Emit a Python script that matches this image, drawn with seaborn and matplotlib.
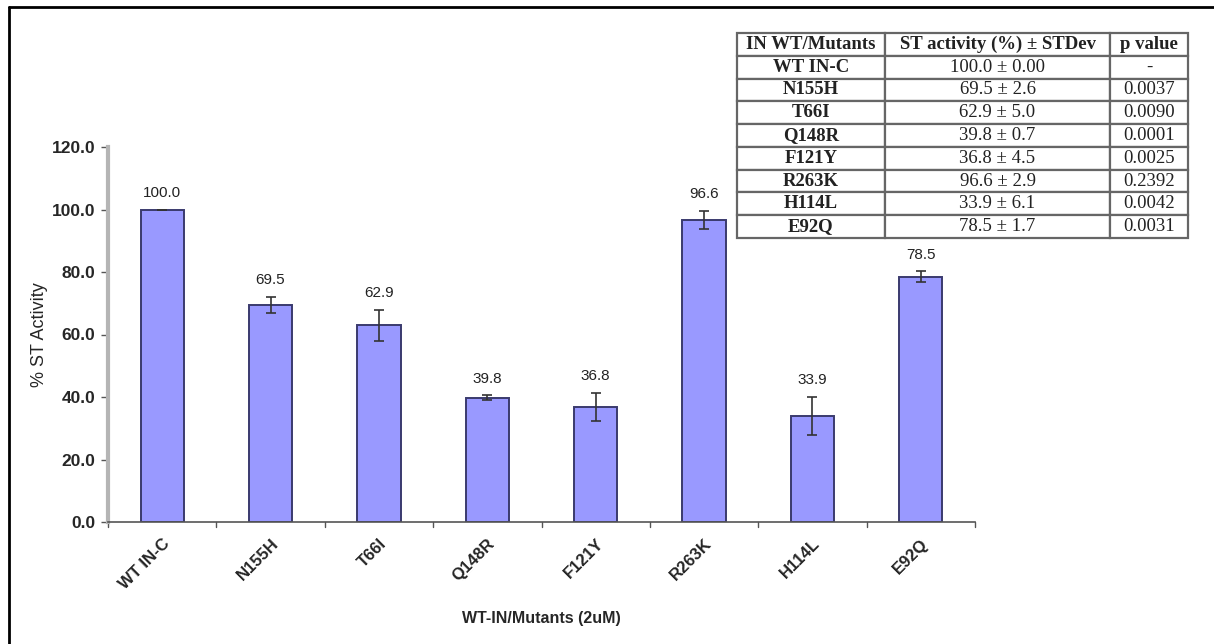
import matplotlib
matplotlib.use("Agg")
import matplotlib.pyplot as plt
import seaborn as sns
import pandas as pd
from matplotlib.lines import Line2D

# Strand-transfer activity of wild-type integrase and mutants
categories = ["WT IN-C", "N155H", "T66I", "Q148R", "F121Y", "R263K", "H114L", "E92Q"]
activity = [100.0, 69.5, 62.9, 39.8, 36.8, 96.6, 33.9, 78.5]
stdev = [0.00, 2.6, 5.0, 0.7, 4.5, 2.9, 6.1, 1.7]
stdev_text = ["0.00", "2.6", "5.0", "0.7", "4.5", "2.9", "6.1", "1.7"]
p_values = ["-", "0.0037", "0.0090", "0.0001", "0.0025", "0.2392", "0.0042", "0.0031"]
y_ticks = [0, 20, 40, 60, 80, 100, 120]

sns.set_theme(style="white")
plt.rcParams["font.family"] = ["Liberation Sans", "DejaVu Sans"]

df = pd.DataFrame({"mutant": categories, "activity": activity, "sd": stdev})

fig = plt.figure(figsize=(12.14, 6.44), dpi=100)
ax = fig.add_axes([108 / 1214, 1 - 522 / 644, (975 - 108) / 1214, (522 - 147) / 644])

sns.barplot(data=df, x="mutant", y="activity", color="#9999FF", saturation=1,
            edgecolor="#3a3a6e", linewidth=1.4, width=0.4, ax=ax)

xs = range(len(categories))
ax.errorbar(xs, activity, yerr=stdev, fmt="none", ecolor="#333333",
            elinewidth=1.2, capsize=3.5, capthick=1.2, zorder=5)

for x, v, e in zip(xs, activity, stdev):
    ax.annotate(f"{v:.1f}", (x, v + e), xytext=(0, 7), textcoords="offset points",
                ha="center", va="bottom", fontsize=11, color="#222222")

ax.set_ylim(0, 120)
ax.set_xlim(-0.5, len(categories) - 0.5)
ax.set_yticks(y_ticks)
ax.set_yticklabels([f"{t:.1f}" for t in y_ticks], fontsize=12.5, fontweight="bold")
ax.set_xticks(list(xs))
ax.set_xticklabels(categories, rotation=45, ha="right", rotation_mode="anchor",
                   fontsize=12, fontweight="bold")
ax.tick_params(axis="x", length=0, pad=10)
ax.tick_params(axis="y", left=True, length=5, width=1, color="#555555", pad=4)

# tick marks between categories on the x axis
for b in [i - 0.5 for i in range(len(categories) + 1)]:
    ax.plot([b, b], [0, -1.5], color="#555555", lw=1, clip_on=False)

ax.set_ylabel("% ST Activity", fontsize=13, labelpad=3)
ax.set_xlabel("WT-IN/Mutants (2uM)", fontsize=11.5, fontweight="bold", labelpad=14)

for side in ["top", "right"]:
    ax.spines[side].set_visible(False)
ax.spines["left"].set_color("#b5b5b5")
ax.spines["left"].set_linewidth(3)
ax.spines["bottom"].set_color("#555555")
ax.spines["bottom"].set_linewidth(1.2)

# Summary table
tax = fig.add_axes([737 / 1214, 1 - 238 / 644, (1188 - 737) / 1214, (238 - 33) / 644])
tax.axis("off")
cell_text = [["IN WT/Mutants", "ST activity (%) \u00b1 STDev", "p value"]]
for c, v, s, p in zip(categories, activity, stdev_text, p_values):
    cell_text.append([c, f"{v:.1f} \u00b1 {s}", p])
col_w = [148 / 451, 225 / 451, 78 / 451]
tbl = tax.table(cellText=cell_text, colWidths=col_w, loc="center", cellLoc="center",
                bbox=[0, 0, 1, 1])
tbl.auto_set_font_size(False)
for (r, c), cell in tbl.get_celld().items():
    cell.set_edgecolor("#666666")
    cell.set_linewidth(1.6)
    bold = (r == 0) or (c == 0)
    cell.get_text().set_fontfamily(["Liberation Serif", "DejaVu Serif"])
    cell.get_text().set_fontsize(13.5)
    cell.get_text().set_fontweight("bold" if bold else "normal")
    cell.get_text().set_color("#222222")

# Frame lines along the top and left edges
fig.add_artist(Line2D([9 / 1214, 9 / 1214], [0, 1 - 7 / 644], color="black", lw=2,
                      transform=fig.transFigure))
fig.add_artist(Line2D([9 / 1214, 1], [1 - 7 / 644, 1 - 7 / 644], color="black", lw=2,
                      transform=fig.transFigure))

fig.savefig("out.png", dpi=100)
